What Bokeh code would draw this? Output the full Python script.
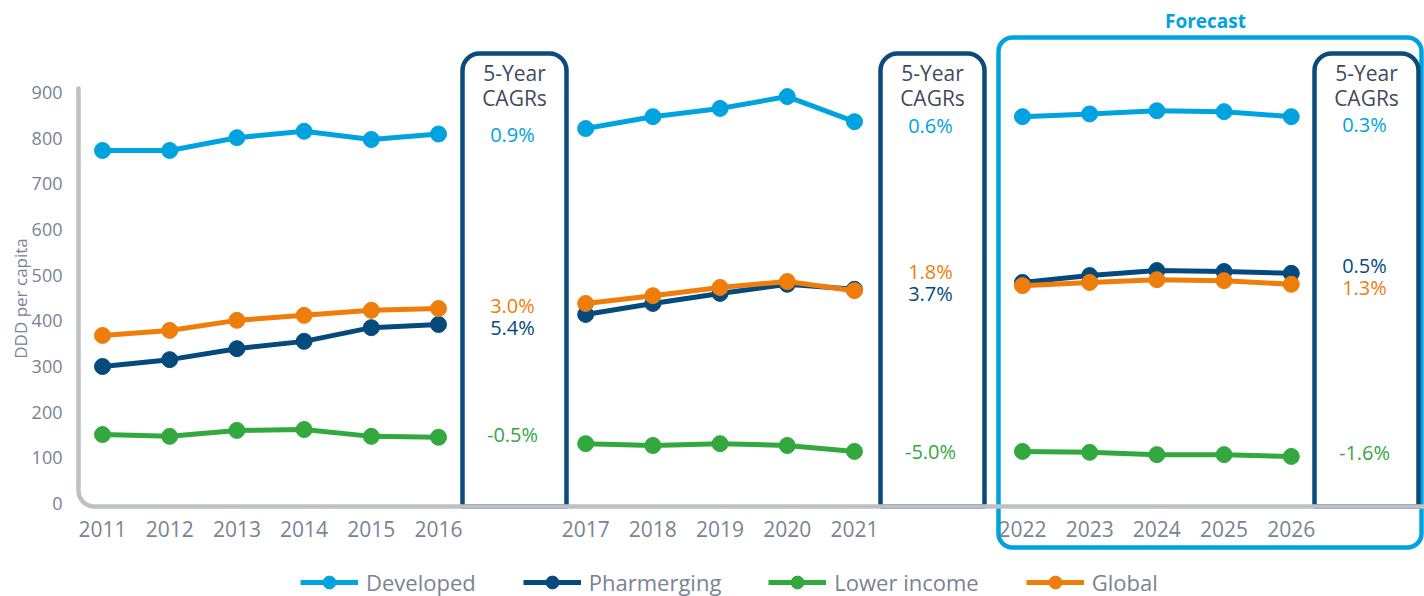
from bokeh.plotting import figure
from bokeh.models import Range1d, FixedTicker, LinearAxis, Legend, LegendItem
from bokeh.core.properties import value
from bokeh.embed import file_html
from bokeh.resources import INLINE
import math

# ---------------- data ----------------
years = [2011, 2012, 2013, 2014, 2015, 2016, 2017, 2018, 2019, 2020, 2021,
         2022, 2023, 2024, 2025, 2026]
developed = [773, 773, 801, 815, 797, 809, 821, 847, 865, 891, 836,
             847, 853, 860, 858, 847]
pharmerging = [300, 315, 339, 355, 385, 392, 414, 438, 460, 480, 469,
               484, 499, 510, 508, 504]
lower_income = [151, 147, 160, 162, 147, 145, 131, 127, 131, 127, 114,
                114, 112, 107, 107, 103]
global_ = [368, 379, 401, 412, 423, 427, 438, 455, 473, 486, 466,
           477, 484, 490, 488, 480]
segments = [(2011, 2016), (2017, 2021), (2022, 2026)]
series_names = ["Developed", "Pharmerging", "Lower income", "Global"]
cagr_developed = ["0.9%", "0.6%", "0.3%"]
cagr_pharmerging = ["5.4%", "3.7%", "0.5%"]
cagr_lower_income = ["-0.5%", "-5.0%", "-1.6%"]
cagr_global = ["3.0%", "1.8%", "1.3%"]
y_ticks = [0, 100, 200, 300, 400, 500, 600, 700, 800, 900]

# ---------------- styling / layout ----------------
FONT = "Open Sans"
C_DEV = "#00A3E0"
C_PHA = "#054A7C"
C_LOW = "#33A83F"
C_GLO = "#EF7D0B"
C_BOX = "#0B4A7A"
C_AXIS = "#BDC0C5"
C_TICK = "#7A8394"
C_HEAD = "#3F4B5B"

W, H = 1424, 596

# helpers mapping the layout grid (pixels) to data space
def u(xr):
    return (xr - 102) / 67.2

def v(yr):
    return (503 - yr) / 0.4567

seg_start = [0.0, 7.19, 13.69]

def xpos(year):
    for s, (a, b) in enumerate(segments):
        if a <= year <= b:
            return round(seg_start[s] + (year - a), 3)

xs = [xpos(y) for y in years]

p = figure(width=W, height=H, output_backend="svg", toolbar_location=None,
           x_range=Range1d(u(0), u(W)), y_range=Range1d(v(H), v(0)),
           x_axis_location=None, y_axis_location=None,
           min_border_left=0, min_border_right=0,
           min_border_top=0, min_border_bottom=0)
p.outline_line_color = None
p.xgrid.visible = False
p.ygrid.visible = False
p.background_fill_color = "white"

# y axis (fixed inside the frame)
ya = LinearAxis(fixed_location=u(74), ticker=FixedTicker(ticks=y_ticks))
ya.axis_line_color = None
ya.major_tick_line_color = None
ya.minor_tick_line_color = None
ya.major_label_text_font = FONT
ya.major_label_text_font_size = "18px"
ya.major_label_text_color = C_TICK
ya.major_label_standoff = 6
ya.axis_label = "DDD per capita"
ya.axis_label_text_font = FONT
ya.axis_label_text_font_size = "17px"
ya.axis_label_text_font_style = "normal"
ya.axis_label_text_color = C_TICK
ya.axis_label_standoff = -3
p.add_layout(ya, "left")

# x axis at the baseline
axis_y = v(506)
xa = LinearAxis(fixed_location=axis_y,
                ticker=FixedTicker(ticks=xs),
                major_label_overrides={x: str(y) for x, y in zip(xs, years)})
xa.axis_line_color = None
xa.major_tick_line_color = None
xa.minor_tick_line_color = None
xa.major_label_text_font = FONT
xa.major_label_text_font_size = "21px"
xa.major_label_text_color = C_TICK
xa.major_label_standoff = 8
p.add_layout(xa, "below")

# forecast box
p.quad(left=u(998), right=u(1421), top=v(37), bottom=v(547),
       fill_color=None, line_color=C_DEV, line_width=4.5, border_radius=14)
p.text(x=[u(1205)], y=[v(20)], text=["Forecast"], text_font=value(FONT),
       text_font_size="19px", text_font_style="bold", text_color=C_DEV,
       text_align="center", text_baseline="middle")

# CAGR boxes
box_edges = [(462, 566), (880, 984), (1314, 1418)]
for (l, r) in box_edges:
    p.quad(left=u(l), right=u(r), top=v(53), bottom=axis_y,
           fill_color=None, line_color=C_BOX, line_width=4.5,
           border_radius=(17, 17, 0, 0))

# gray L-shaped axis with rounded corner
x0, y0, ytop = u(78), axis_y, v(88)
px_x = W / (u(W) - u(0))
px_y = H / (v(0) - v(H))
rad = 16
rx, ry = rad / px_x, rad / px_y
cx, cy = x0 + rx, y0 + ry
ax_x = [x0, x0]
ax_y = [ytop, cy]
for k in range(1, 20):
    t = math.pi + (math.pi / 2) * k / 20
    ax_x.append(cx + rx * math.cos(t))
    ax_y.append(cy + ry * math.sin(t))
ax_x += [cx, u(W + 20)]
ax_y += [y0, y0]
p.line(ax_x, ax_y, line_color=C_AXIS, line_width=4.5, line_cap="round")

# CAGR texts
centers = [(l + r) / 2 for (l, r) in box_edges]
head_x = [u(c) for c in centers]
val_x = [u(c - 2) for c in centers]
p.text(x=head_x, y=[v(72)] * 3, text=["5-Year"] * 3, text_font=value(FONT),
       text_font_size="21px", text_color=C_HEAD, text_align="center",
       text_baseline="middle")
p.text(x=head_x, y=[v(97)] * 3, text=["CAGRs"] * 3, text_font=value(FONT),
       text_font_size="21px", text_color=C_HEAD, text_align="center",
       text_baseline="middle")

label_rows = [
    (cagr_developed, C_DEV, [134, 125, 124]),
    (cagr_pharmerging, C_PHA, [327, 293, 265]),
    (cagr_lower_income, C_LOW, [434, 451, 452]),
    (cagr_global, C_GLO, [305, 271, 287]),
]
for texts, col, yr in label_rows:
    p.text(x=val_x, y=[v(q) for q in yr], text=texts, text_font=value(FONT),
           text_font_size="20px", text_color=col, text_align="center",
           text_baseline="middle")

# series
series = [(series_names[0], developed, C_DEV),
          (series_names[1], pharmerging, C_PHA),
          (series_names[2], lower_income, C_LOW),
          (series_names[3], global_, C_GLO)]
items = []
for name, vals, col in series:
    first = None
    for (a, b) in segments:
        sx = [xpos(y) for y in years if a <= y <= b]
        sy = [val for y, val in zip(years, vals) if a <= y <= b]
        lr = p.line(sx, sy, line_color=col, line_width=5)
        sr = p.scatter(sx, sy, size=16, fill_color=col, line_color=col)
        if first is None:
            first = [lr, sr]
    items.append(LegendItem(label=name, renderers=first))

legend = Legend(items=items, orientation="horizontal",
                location=(300, -2))
legend.border_line_color = None
legend.background_fill_alpha = 0
legend.label_text_font = FONT
legend.label_text_font_size = "22px"
legend.label_text_color = C_TICK
legend.glyph_width = 58
legend.glyph_height = 32
legend.label_height = 32
legend.label_standoff = 8
legend.spacing = 47
legend.padding = 0
legend.margin = 0
p.add_layout(legend, "center")

open("out.html", "w").write(file_html(p, INLINE))
